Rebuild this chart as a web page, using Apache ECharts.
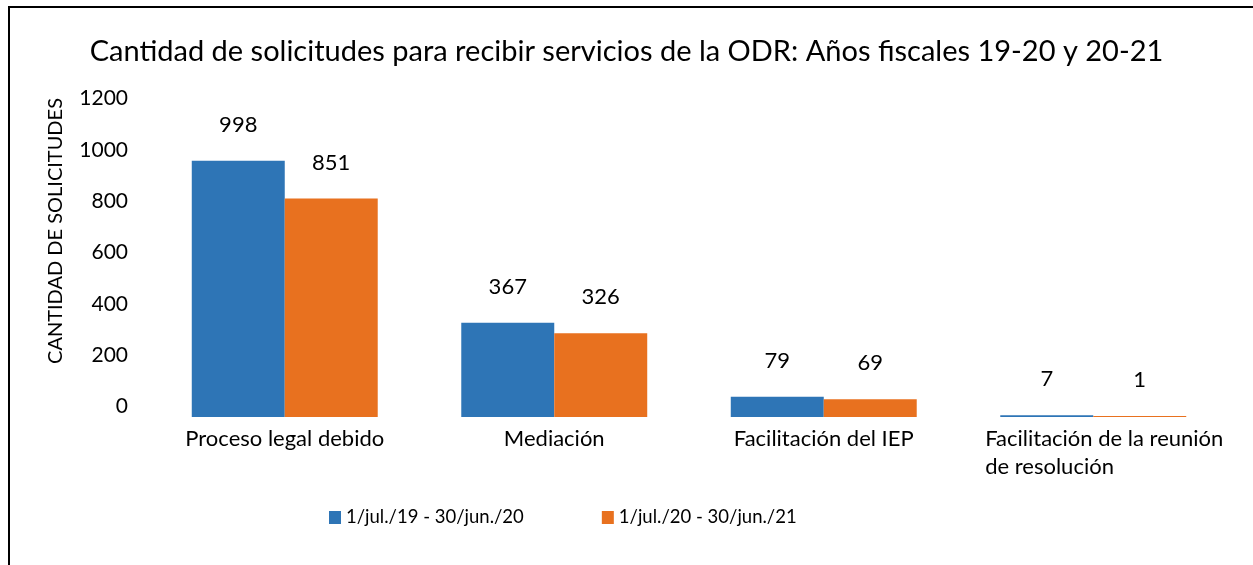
<!DOCTYPE html>
<html lang="es">
<head>
  <meta charset="utf-8">
</head>
<body style="height: 100%; margin: 0; background: #fff">
  <div id="container" style="width: 1253px; height: 565px"></div>
  <script type="text/javascript" src="https://cdn.jsdelivr.net/npm/echarts@6/dist/echarts.min.js"></script>
  <script type="text/javascript">
    var categories = ['Proceso legal debido', 'Mediación', 'Facilitación del IEP', 'Facilitación de la reunión\nde resolución'];
    var seriesNames = ['1/jul./19 - 30/jun./20', '1/jul./20 - 30/jun./21'];
    var fy1920 = [998, 367, 79, 7];
    var fy2021 = [851, 326, 69, 1];
    var yTicks = { min: 0, max: 1200, interval: 200 };

    var font = 'Lato, "Open Sans", sans-serif';
    var dom = document.getElementById('container');
    var myChart = echarts.init(dom, null, { renderer: 'canvas' });

    function barSeries(name, data, color) {
      return {
        name: name,
        type: 'bar',
        data: data,
        barGap: '0%',
        barCategoryGap: '31%',
        barMinHeight: 1,
        itemStyle: { color: color },
        label: {
          show: true,
          position: 'top',
          distance: 25,
          color: '#000',
          fontFamily: font,
          fontSize: 22
        }
      };
    }

    var option = {
      animation: false,
      backgroundColor: '#fff',
      title: {
        text: 'Cantidad de solicitudes para recibir servicios de la ODR: Años fiscales 19-20 y 20-21',
        left: 'center',
        top: 32,
        textStyle: { fontFamily: font, fontWeight: 'normal', fontSize: 29, color: '#000' }
      },
      legend: {
        bottom: 33,
        left: 324,
        itemWidth: 12,
        itemHeight: 13,
        itemGap: 78,
        icon: 'rect',
        textStyle: { fontFamily: font, fontSize: 18.5, color: '#000' }
      },
      grid: { left: 150, right: 25, top: 109, bottom: 148 },
      xAxis: {
        type: 'category',
        data: categories,
        axisLine: { show: false },
        axisTick: { show: false },
        axisLabel: {
          color: '#000',
          fontFamily: font,
          fontSize: 22,
          margin: 8,
          lineHeight: 28,
          interval: 0,
          formatter: function (v) {
            return v.indexOf('\n') >= 0 ? '{l|' + v.split('\n').join('}\n{l|') + '}' : v;
          },
          rich: {
            l: { align: 'left', fontFamily: font, fontSize: 22, color: '#000', lineHeight: 28, padding: [0, 0, 0, 22] }
          }
        }
      },
      yAxis: {
        type: 'value',
        min: yTicks.min,
        max: yTicks.max,
        interval: yTicks.interval,
        name: 'CANTIDAD DE SOLICITUDES',
        nameLocation: 'middle',
        nameGap: 84,
        nameTextStyle: { fontFamily: font, fontSize: 20, color: '#000', padding: [0, 0, 0, 64] },
        axisLine: { show: false },
        axisTick: { show: false },
        splitLine: { show: false },
        axisLabel: {
          color: '#000',
          fontFamily: font,
          fontSize: 21,
          margin: 22,
          verticalAlign: 'bottom',
          formatter: function (v) { return String(v); }
        }
      },
      graphic: [{
        type: 'rect',
        shape: { x: 9, y: 7, width: 1260, height: 580 },
        style: { fill: 'none', stroke: '#000', lineWidth: 2 },
        silent: true
      }],
      series: [
        barSeries(seriesNames[0], fy1920, '#2E75B6'),
        barSeries(seriesNames[1], fy2021, '#E8711F')
      ]
    };

    myChart.setOption(option);
    window.addEventListener('resize', myChart.resize);
  </script>
</body>
</html>
